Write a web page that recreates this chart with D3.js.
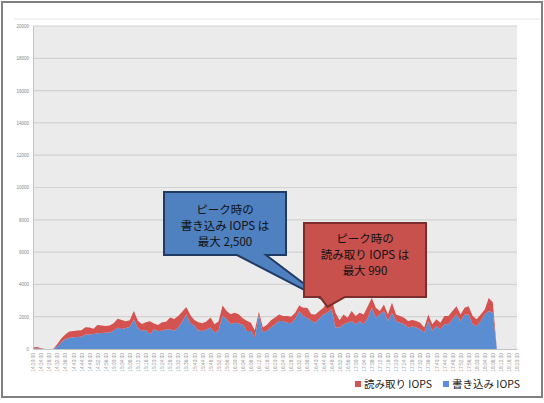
<!DOCTYPE html>
<html>
<head>
<meta charset="utf-8">
<script src="https://cdn.jsdelivr.net/npm/d3@7"></script>
<style>
  body { margin: 0; background: #fff; }
  svg { display: block; font-family: "Noto Sans CJK JP", "Noto Sans", sans-serif; }
</style>
</head>
<body>
<div id="chart"></div>
<script>
// time labels, one point every 2 minutes from 14:20:00 to 18:20:00
const times = [];
for (let i = 0; i <= 120; i++) {
  const m = 14 * 60 + 20 + i * 2;
  const hh = String(Math.floor(m / 60)).padStart(2, "0");
  const mm = String(m % 60).padStart(2, "0");
  times.push(`${hh}:${mm}:00`);
}

// write IOPS (blue, bottom layer)
const writeIops = [
  30, 40, 10, 0, 0, 0, 150, 420, 620, 700,
  720, 740, 760, 900, 900, 930, 980, 990, 1000, 1020,
  1150, 1320, 1240, 1300, 1370, 1840, 1300, 1120, 1180, 920,
  1220, 1120, 1130, 1200, 1220, 1130, 1330, 1700, 2140, 1600,
  1450, 1150, 1120, 1200, 1330, 1020, 1150, 2040, 1850, 1550,
  1630, 1580, 1500, 1120, 1120, 710, 2140, 1020, 1130, 1330,
  1530, 1730, 1730, 1630, 1600, 1850, 2350, 2050, 1940, 1730,
  1630, 1900, 2140, 2250, 2500, 1330, 1330, 1530, 1630, 1730,
  1530, 1730, 1530, 1940, 2550, 1940, 2140, 2350, 1730, 2240,
  1730, 1630, 1530, 1330, 1400, 1330, 1230, 1020, 1730, 1120,
  1430, 1230, 1530, 1530, 1840, 2140, 1730, 2140, 2140, 1530,
  1430, 1730, 2140, 2350, 2250, 0, 0, 0, 0, 0,
  0
];

// read IOPS (red, stacked on top of write)
const readIops = [
  70, 80, 30, 0, 0, 0, 150, 230, 280, 380,
  400, 410, 400, 450, 430, 320, 500, 470, 420, 430,
  450, 560, 560, 420, 410, 510, 450, 430, 470, 800,
  360, 360, 520, 480, 730, 720, 720, 600, 460, 500,
  350, 500, 480, 500, 620, 510, 550, 660, 500, 600,
  620, 570, 400, 630, 510, 450, 160, 310, 370, 450,
  420, 410, 320, 420, 400, 390, 350, 500, 610, 420,
  510, 450, 410, 710, 600, 910, 450, 610, 310, 620,
  520, 510, 610, 710, 610, 610, 210, 410, 410, 620,
  410, 410, 410, 400, 400, 400, 400, 310, 410, 410,
  410, 400, 510, 510, 510, 510, 410, 410, 510, 510,
  410, 410, 310, 810, 650, 0, 0, 0, 0, 0,
  0
];

const yTicks = [0, 2000, 4000, 6000, 8000, 10000, 12000, 14000, 16000, 18000, 20000];

const seriesNames = ["書き込み IOPS", "読み取り IOPS"];
const colors = { "書き込み IOPS": "#5b8dd3", "読み取り IOPS": "#d4524f" };

const W = 544, H = 403;
const margin = { top: 26, right: 27, bottom: 54, left: 33 };
const width = W - margin.left - margin.right;
const height = H - margin.top - margin.bottom;

const root = d3.select("#chart").append("svg").attr("width", W).attr("height", H);

// outer frame
root.append("rect")
  .attr("x", 2).attr("y", 2).attr("width", 540).attr("height", 395)
  .style("fill", "#fff").style("stroke", "#808080").style("stroke-width", 2);
root.append("line")
  .attr("x1", 14).attr("x2", 540).attr("y1", 19).attr("y2", 19)
  .style("stroke", "#e6e6e6").style("stroke-width", 1);

const svg = root.append("g").attr("transform", `translate(${margin.left},${margin.top})`);

const x = d3.scalePoint().domain(times).range([0, width]);
const y = d3.scaleLinear().domain([0, 20000]).range([height, 0]);

// plot background
svg.append("rect")
  .attr("width", width).attr("height", height)
  .style("fill", "#ebebeb");

// grid lines
svg.selectAll(".grid")
  .data(yTicks.filter((d) => d > 0))
  .enter()
  .append("line")
  .attr("class", "grid")
  .attr("x1", 0).attr("x2", width)
  .attr("y1", (d) => y(d)).attr("y2", (d) => y(d))
  .style("stroke", "#d2d2d2").style("stroke-width", 1.2);

// stacked areas
const rows = times.map((t, i) => ({ t, "書き込み IOPS": writeIops[i], "読み取り IOPS": readIops[i] }));
const stack = d3.stack().keys(seriesNames)(rows);
const area = d3.area()
  .x((d) => x(d.data.t))
  .y0((d) => y(d[0]))
  .y1((d) => y(d[1]));

svg.selectAll(".layer")
  .data(stack)
  .enter()
  .append("path")
  .attr("class", "layer")
  .attr("d", area)
  .style("fill", (d) => colors[d.key]);

// y axis
const yAxis = d3.axisLeft(y).tickValues(yTicks).tickSize(0).tickPadding(4).tickFormat((d) => String(d));
const yg = svg.append("g").call(yAxis);
yg.select(".domain").style("stroke", "#c4c4c4");
yg.selectAll("text").style("font-size", "4.5px").style("fill", "#888").style("font-family", "Liberation Sans, sans-serif");

// x axis
const xAxis = d3.axisBottom(x)
  .tickValues(times.filter((d, i) => i % 2 === 0))
  .tickSize(0);
const xg = svg.append("g").attr("transform", `translate(0,${height})`).call(xAxis);
xg.select(".domain").style("stroke", "#c4c4c4");
xg.selectAll("text")
  .attr("transform", "rotate(-90)")
  .attr("x", -4).attr("y", 0).attr("dy", "0.35em")
  .style("text-anchor", "end")
  .style("font-size", "4.8px").style("fill", "#999")
  .style("font-family", "Liberation Sans, sans-serif");

// callouts
function callout(box, base1, base2, tip, fill, stroke, lines) {
  const p = d3.path();
  p.moveTo(box.x0, box.y0);
  p.lineTo(box.x1, box.y0);
  p.lineTo(box.x1, box.y1);
  p.lineTo(base2, box.y1);
  p.lineTo(tip[0], tip[1]);
  p.lineTo(base1, box.y1);
  p.lineTo(box.x0, box.y1);
  p.closePath();
  root.append("path").attr("d", p.toString())
    .style("fill", fill).style("stroke", stroke).style("stroke-width", 2)
    .style("stroke-linejoin", "miter");
  const cx = (box.x0 + box.x1) / 2;
  lines.forEach((s, i) => {
    root.append("text")
      .attr("x", cx).attr("y", box.ty + i * 16)
      .attr("text-anchor", "middle")
      .style("font-size", "11.5px").style("fill", "#111")
      .text(s);
  });
}

const peak = 74;
const tipX = margin.left + x(times[peak]);
const tipY = margin.top + y(writeIops[peak] + readIops[peak]);

callout({ x0: 164, y0: 192, x1: 286, y1: 255, ty: 214 }, 237, 266, [tipX - 2, tipY + 4],
  "#4f80bf", "#1f3b63", ["ピーク時の", "書き込み IOPS は", "最大 2,500"]);
callout({ x0: 304, y0: 223, x1: 426, y1: 297, ty: 243 }, 320, 345, [tipX - 4, tipY + 8],
  "#c8504d", "#7b2d2b", ["ピーク時の", "読み取り IOPS は", "最大 990"]);

// legend
const legend = root.append("g").attr("transform", "translate(355,384)");
const legendItems = [
  { name: "読み取り IOPS", x: 0 },
  { name: "書き込み IOPS", x: 88 },
];
legendItems.forEach((d) => {
  legend.append("rect")
    .attr("x", d.x).attr("y", -3).attr("width", 6).attr("height", 6)
    .style("fill", colors[d.name]);
  legend.append("text")
    .attr("x", d.x + 9).attr("y", 0).attr("dy", "0.35em")
    .style("font-size", "10.5px").style("fill", "#222")
    .text(d.name);
});
</script>
</body>
</html>
